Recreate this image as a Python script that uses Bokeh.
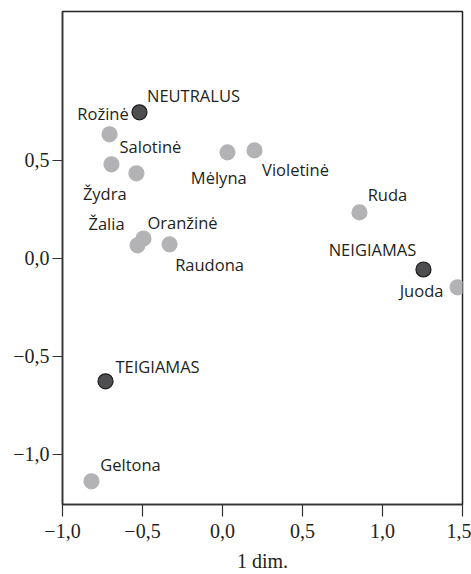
from bokeh.plotting import figure
from bokeh.models import ColumnDataSource, FixedTicker, Range1d
from bokeh.core.properties import value
from bokeh.embed import file_html
from bokeh.resources import INLINE

# Data
names = ["NEUTRALUS", "Rožinė", "Žydra", "Salotinė", "Mėlyna", "Violetinė",
         "Žalia", "Oranžinė", "Raudona", "Ruda", "NEIGIAMAS", "Juoda",
         "TEIGIAMAS", "Geltona"]
dim1 = [-0.519, -0.706, -0.694, -0.538, 0.031, 0.200,
        -0.531, -0.494, -0.331, 0.856, 1.256, 1.469,
        -0.731, -0.819]
dim2 = [0.743, 0.631, 0.478, 0.432, 0.539, 0.549,
        0.065, 0.100, 0.070, 0.233, -0.058, -0.149,
        -0.628, -1.138]
kind = ["ref", "col", "col", "col", "col", "col",
        "col", "col", "col", "col", "ref", "col",
        "ref", "col"]

x_ticks = [-1.0, -0.5, 0.0, 0.5, 1.0, 1.5]
x_tick_labels = ["\u22121,0", "\u22120,5", "0,0", "0,5", "1,0", "1,5"]
y_ticks = [-1.0, -0.5, 0.0, 0.5]
y_tick_labels = ["\u22121,0", "\u22120,5", "0,0", "0,5"]
x_title = "1 dim."

# label placement (screen px offsets from the point), styling
label_dx = [54, -6.5, -6.7, 14, -8.7, 41, -31, 39, 40, 28, -51, -36, 52, 39]
label_dy = [-17, -21, 29, -27, 25, 19, -22, -16, 20, -18, -20, 3, -15, -17]

light = "#b3b3b5"
dark = "#4e4e50"
text_col = "#231f20"

p = figure(width=471, height=574, output_backend="svg", toolbar_location=None,
           x_range=Range1d(-1.0, 1.5), y_range=Range1d(-1.256, 1.257),
           min_border_left=62, min_border_right=9, min_border_top=11,
           min_border_bottom=70)
p.grid.visible = False
p.outline_line_color = "#222222"
p.outline_line_width = 1.5
p.background_fill_color = "white"
p.border_fill_color = "white"

for ax in (p.xaxis[0], p.yaxis[0]):
    ax.axis_line_color = "#333333"
    ax.axis_line_width = 1.5
    ax.major_tick_line_color = "#333333"
    ax.major_tick_line_width = 1.2
    ax.major_tick_in = 0
    ax.minor_tick_line_color = None
    ax.major_label_text_font = "Liberation Serif"
    ax.major_label_text_font_size = "20px"
    ax.major_label_text_color = text_col

p.xaxis.ticker = FixedTicker(ticks=x_ticks)
p.yaxis.ticker = FixedTicker(ticks=y_ticks)
p.xaxis.major_label_overrides = {t: l for t, l in zip(x_ticks, x_tick_labels)}
p.yaxis.major_label_overrides = {t: l for t, l in zip(y_ticks, y_tick_labels)}
p.xaxis.major_tick_out = 12
p.yaxis.major_tick_out = 10
p.xaxis.major_label_standoff = 7
p.yaxis.major_label_standoff = 3
p.xaxis.axis_label = x_title
p.xaxis.axis_label_text_font = "Liberation Serif"
p.xaxis.axis_label_text_font_size = "20px"
p.xaxis.axis_label_text_font_style = "normal"
p.xaxis.axis_label_text_color = text_col
p.xaxis.axis_label_standoff = 9

fill = [dark if k == "ref" else light for k in kind]
line = ["#1a1a1a" if k == "ref" else light for k in kind]
src = ColumnDataSource(dict(x=dim1, y=dim2, name=names, fill=fill, line=line,
                            dx=label_dx, dy=label_dy))

p.scatter("x", "y", source=src, size=15, fill_color="fill", line_color="line",
          line_width=1.2)
p.text("x", "y", text="name", source=src, x_offset="dx", y_offset="dy",
       text_align="center", text_baseline="middle",
       text_font=value("Open Sans"), text_font_size=value("16.5px"),
       text_color=text_col)

open("out.html", "w").write(file_html(p, INLINE))
